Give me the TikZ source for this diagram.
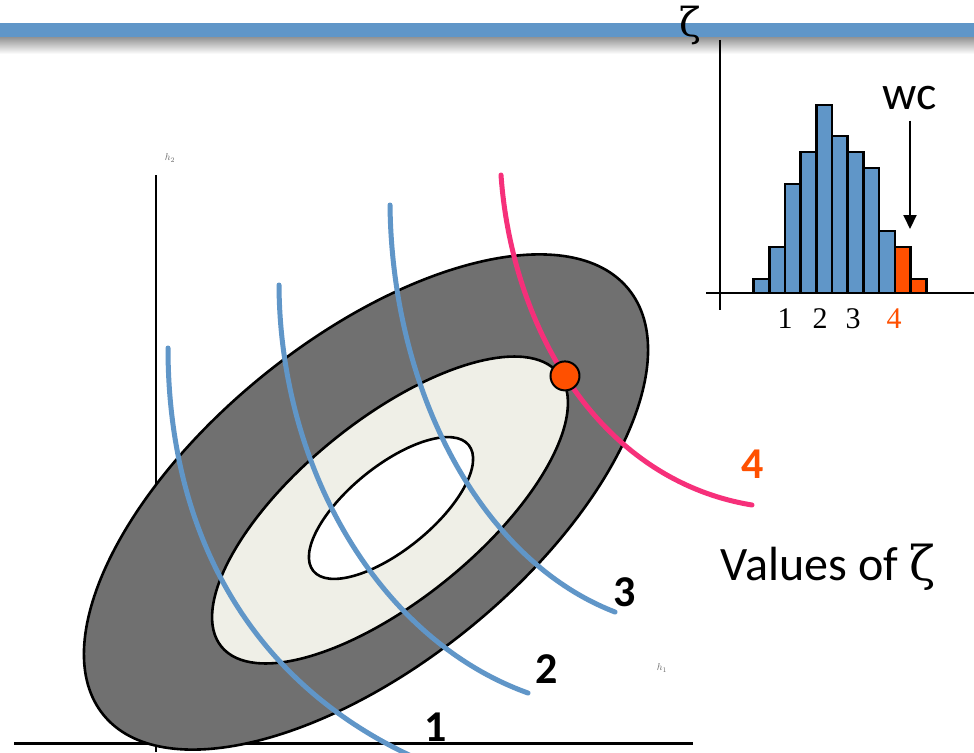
\documentclass[tikz,border=0pt]{standalone}
\usepackage{fontspec}
\setmainfont{Liberation Serif}
\newfontfamily\calibrifont{Carlito}
\newfontfamily\greekfont{DejaVu Serif}
\usepackage{xcolor}
\usetikzlibrary{arrows.meta,shapes.geometric}
\definecolor{barblue}{RGB}{96,150,200}
\definecolor{ringgray}{RGB}{112,112,112}
\definecolor{ringlight}{RGB}{239,239,231}
\definecolor{wcpink}{RGB}{246,48,122}
\definecolor{wcorange}{RGB}{255,80,0}

\begin{document}
\begin{tikzpicture}[x=1pt, y=-1pt,
  axis/.style={draw=black, line width=2pt},
  ring/.style={ellipse, draw=black, line width=2.6pt, inner sep=0pt, rotate=39},
  level/.style={draw=barblue, line width=5pt, line cap=round},
  worstline/.style={draw=wcpink, line width=5pt, line cap=round},
  dot/.style={circle, draw=black, line width=2pt, fill=wcorange,
              minimum size=29pt, inner sep=0pt},
  bar/.style={draw=black, line width=2.6pt},
  lvlnum/.style={font=\calibrifont\bfseries\fontsize{44}{44}\selectfont,
                 anchor=base, inner sep=0pt},
  histnum/.style={font=\fontsize{30}{30}\selectfont, anchor=base, inner sep=0pt},
  bigsans/.style={font=\calibrifont\fontsize{48}{48}\selectfont, anchor=base,
                  inner sep=0pt},
  tinylbl/.style={font=\fontsize{10}{10}\selectfont, text=black!60, inner sep=0pt}]
  \useasboundingbox (0,0) rectangle (974,752);
  \fill[white] (0,0) rectangle (974,752);
  \draw[axis] (156,175) -- (156,752);
  \draw[axis, line width=3pt] (14,743) -- (693,743);
  \node[tinylbl] (ylbl) at (170,158) {$h_2$};
  \node[tinylbl] (xlbl) at (662,668) {$h_1$};
  \node[ring, fill=ringgray, minimum width=676pt, minimum height=326pt] (outer) at (366,502) {};
  \node[ring, fill=ringlight, minimum width=434pt, minimum height=180pt] (middle) at (390,510) {};
  \node[ring, fill=white, minimum width=200pt, minimum height=84pt] (inner) at (391,508) {};
  \draw[level] (168,348) .. controls (168,520) and (240,680) .. (420,760);
  \draw[level] (279,285) .. controls (280,470) and (380,640) .. (528,693);
  \draw[level] (390,205) .. controls (392,390) and (480,560) .. (615,612);
  \draw[worstline] (501,175) .. controls (512,330) and (600,480) .. (752,505)
    node[dot, pos=0.465] (worst) {};
  \node[lvlnum] (lvl1) at (436,741) {1};
  \node[lvlnum] (lvl2) at (547,683) {2};
  \node[lvlnum] (lvl3) at (625,606) {3};
  \node[lvlnum, text=wcorange] (lvl4) at (753,478) {4};
  \node[bigsans] (values) at (828,580) {Values of {\greekfont ζ}};
  \fill[barblue] (0,23) rectangle (974,38);
  \shade[top color=black!40, bottom color=white] (0,38) rectangle (974,54);
  \node[font=\greekfont\fontsize{40}{40}\selectfont, anchor=base, inner sep=0pt] (zeta) at (690,37) {ζ};
  \draw[axis] (720,40) -- (720,310);
  \draw[axis] (706,293) -- (974,293);
  \foreach \top/\col [count=\i from 0] in {279/barblue,247/barblue,184/barblue,
      152/barblue,105/barblue,136/barblue,152/barblue,168/barblue,231/barblue,
      247/wcorange,279/wcorange}
    \draw[bar, fill=\col] ({753.5+15.7*\i},293) rectangle ({769.2+15.7*\i},\top);
  \node[histnum] (h1) at (785,328) {1};
  \node[histnum] (h2) at (820,328) {2};
  \node[histnum] (h3) at (853,328) {3};
  \node[histnum, text=wcorange] (h4) at (894,328) {4};
  \node[bigsans] (wc) at (910,109) {wc};
  \coordinate (wctip) at (910,229);
  \draw[line width=2pt, -{Triangle[width=13pt, length=14pt]}, shorten <=11pt] (wc.south) -- (wctip);
\end{tikzpicture}
\end{document}
